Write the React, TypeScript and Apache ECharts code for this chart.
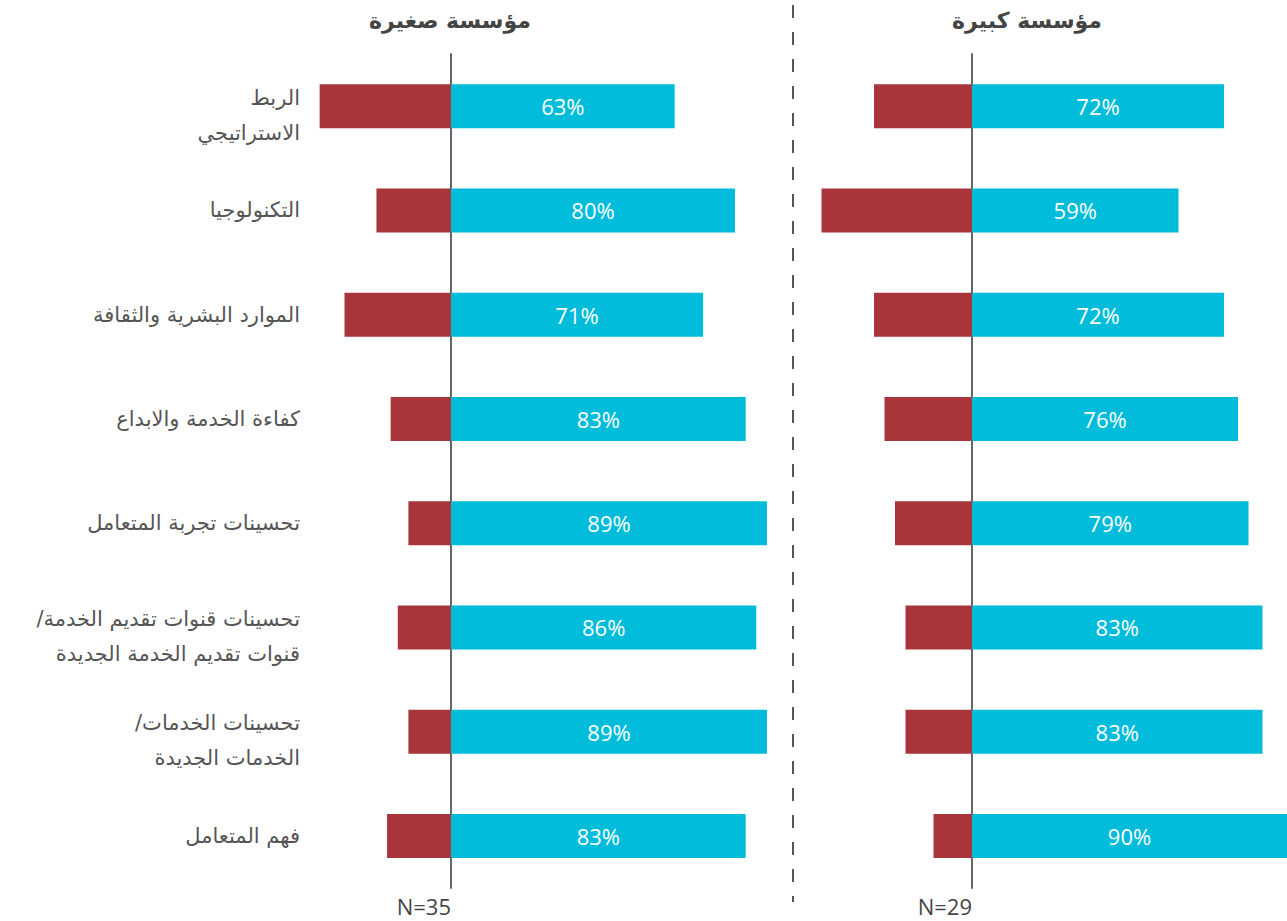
import React, { useEffect, useRef } from "react";
import * as echarts from "echarts";

const categories = [
  "الربط\nالاستراتيجي",
  "التكنولوجيا",
  "الموارد البشرية والثقافة",
  "كفاءة الخدمة والابداع",
  "تحسينات تجربة المتعامل",
  "تحسينات قنوات تقديم الخدمة/\u200F\n قنوات تقديم الخدمة الجديدة",
  "تحسينات الخدمات/\u200F\nالخدمات الجديدة",
  "فهم المتعامل",
];
const smallPositive = [63, 80, 71, 83, 89, 86, 89, 83];
const smallNegative = [37, 21, 30, 17, 12, 15, 12, 18];
const largePositive = [72, 59, 72, 76, 79, 83, 83, 90];
const largeNegative = [28, 43, 28, 25, 22, 19, 19, 11];
const titles = ["مؤسسة صغيرة", "مؤسسة كبيرة"];
const sampleSizes = ["N=35", "N=29"];

const RED = "#A8353A";
const CYAN = "#00BCDB";
const GREY = "#555555";
const ARABIC = "'DejaVu Sans', 'Noto Sans', sans-serif";
const LATIN = "'Open Sans', 'Noto Sans', sans-serif";

export default function App() {
  const ref = useRef<HTMLDivElement>(null);
  useEffect(() => {
    if (!ref.current) return;
    const chart = echarts.init(ref.current, null, { renderer: "svg" });
    const barLabel = {
      show: true,
      position: "inside",
      color: "#ffffff",
      fontSize: 22,
      fontFamily: LATIN,
      formatter: (p: any) => `${p.value}%`,
    };
    const zeroAxis = (gridIndex: number, showLabels: boolean) => ({
      type: "category",
      gridIndex,
      data: categories,
      inverse: true,
      axisTick: { show: false },
      axisLine: showLabels
        ? { show: false }
        : { show: true, onZero: true, lineStyle: { color: "#666666", width: 2 } },
      axisLabel: showLabels
        ? {
            show: true,
            margin: 9,
            align: "right",
            color: GREY,
            fontSize: 21,
            lineHeight: 35,
            fontFamily: ARABIC,
            formatter: (v: string) =>
              v.includes("\n")
                ? "{s| }\n" + v.split("\n").map((l) => `{m|${l}}`).join("\n")
                : `{m|${v}}`,
            rich: {
              s: { fontSize: 4, lineHeight: 18 },
              m: { fontSize: 21, lineHeight: 35, color: GREY, fontFamily: ARABIC, align: "right" },
            },
          }
        : { show: false },
    });
    const option: any = {
      animation: false,
      backgroundColor: "#ffffff",
      grid: [
        { left: 309, width: 461.5, top: 54, height: 834 },
        { left: 814.5, width: 472.5, top: 54, height: 834 },
      ],
      xAxis: [
        { type: "value", gridIndex: 0, min: -40, max: 90, show: false },
        { type: "value", gridIndex: 1, min: -45, max: 90, show: false },
      ],
      yAxis: [
        { ...zeroAxis(0, true), position: "left", axisLine: { show: false, onZero: false } },
        zeroAxis(0, false),
        zeroAxis(1, false),
      ],
      series: [
        {
          type: "bar",
          xAxisIndex: 0,
          yAxisIndex: 1,
          stack: "s",
          barWidth: 44,
          data: smallNegative.map((v) => -v),
          itemStyle: { color: RED },
          z: 1,
        },
        {
          type: "bar",
          xAxisIndex: 0,
          yAxisIndex: 1,
          stack: "s",
          barWidth: 44,
          data: smallPositive,
          itemStyle: { color: CYAN },
          label: barLabel,
          z: 1,
        },
        {
          type: "bar",
          xAxisIndex: 1,
          yAxisIndex: 2,
          stack: "l",
          barWidth: 44,
          data: largeNegative.map((v) => -v),
          itemStyle: { color: RED },
          z: 1,
        },
        {
          type: "bar",
          xAxisIndex: 1,
          yAxisIndex: 2,
          stack: "l",
          barWidth: 44,
          data: largePositive,
          itemStyle: { color: CYAN },
          label: barLabel,
          z: 1,
        },
      ],
      graphic: [
        {
          type: "line",
          shape: { x1: 793, y1: 5, x2: 793, y2: 902 },
          style: { stroke: GREY, lineWidth: 2, lineDash: [13, 14] },
        },
        {
          type: "text",
          x: 450,
          y: 20,
          style: {
            text: titles[0],
            fill: "#444444",
            font: `bold 22px ${ARABIC}`,
            align: "center",
            verticalAlign: "middle",
          },
        },
        {
          type: "text",
          x: 1027,
          y: 20,
          style: {
            text: titles[1],
            fill: "#444444",
            font: `bold 22px ${ARABIC}`,
            align: "center",
            verticalAlign: "middle",
          },
        },
        {
          type: "text",
          x: 451,
          y: 906,
          style: {
            text: sampleSizes[0],
            fill: "#444444",
            font: `22px ${LATIN}`,
            align: "right",
            verticalAlign: "middle",
          },
        },
        {
          type: "text",
          x: 972,
          y: 906,
          style: {
            text: sampleSizes[1],
            fill: "#444444",
            font: `22px ${LATIN}`,
            align: "right",
            verticalAlign: "middle",
          },
        },
      ],
    };
    chart.setOption(option);
    return () => chart.dispose();
  }, []);
  return (
    <div
      ref={ref}
      style={{ position: "absolute", left: 0, top: 0, width: 1287, height: 921 }}
    />
  );
}
